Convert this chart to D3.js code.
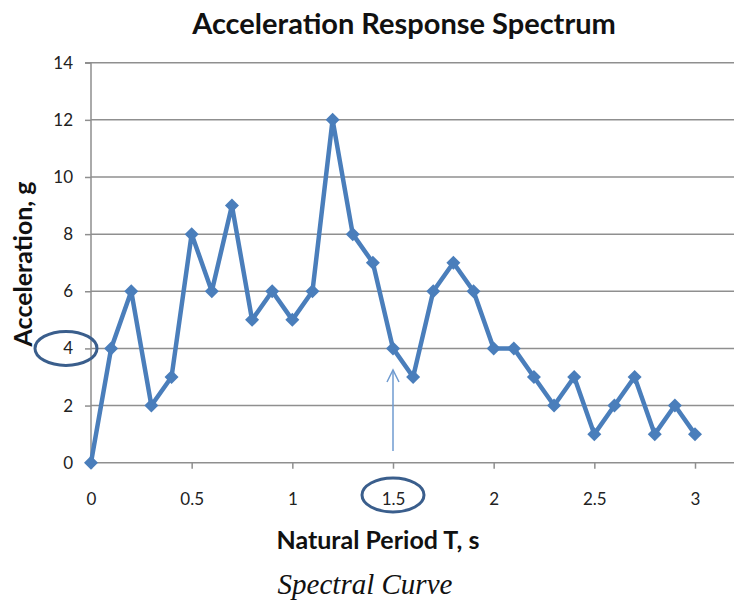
<!DOCTYPE html>
<html>
<head>
<meta charset="utf-8">
<script src="https://cdn.jsdelivr.net/npm/d3@7"></script>
<style>
  html, body { margin: 0; padding: 0; background: #fff; }
  svg { display: block; }
</style>
</head>
<body>
<svg id="chart" width="734" height="605"></svg>
<script>
const periods = [0, 0.1, 0.2, 0.3, 0.4, 0.5, 0.6, 0.7, 0.8, 0.9, 1.0, 1.1, 1.2, 1.3, 1.4, 1.5, 1.6, 1.7, 1.8, 1.9, 2.0, 2.1, 2.2, 2.3, 2.4, 2.5, 2.6, 2.7, 2.8, 2.9, 3.0];
const accelerations = [0, 4, 6, 2, 3, 8, 6, 9, 5, 6, 5, 6, 12, 8, 7, 4, 3, 6, 7, 6, 4, 4, 3, 2, 3, 1, 2, 3, 1, 2, 1];
const xTicks = [0, 0.5, 1, 1.5, 2, 2.5, 3];
const yTicks = [0, 2, 4, 6, 8, 10, 12, 14];
const titleText = "Acceleration Response  Spectrum";
const xLabel = "Natural Period T, s";
const yLabel = "Acceleration, g";
const caption = "Spectral Curve";
const highlightY = 4;
const highlightX = 1.5;

const svg = d3.select("#chart");
const x = d3.scaleLinear().domain([0, 3]).range([91, 695]);
const y = d3.scaleLinear().domain([0, 14]).range([462.7, 62.7]);
const gridRight = 734;
const font = "Lato, 'Open Sans', 'Liberation Sans', sans-serif";

// gridlines
svg.append("g").selectAll("line").data(yTicks.filter(d => d > 0)).join("line")
  .attr("x1", x(0)).attr("x2", gridRight)
  .attr("y1", d => y(d)).attr("y2", d => y(d))
  .attr("stroke", "#8f8f8f").attr("stroke-width", 1.5);

// y axis
const yAxis = svg.append("g").attr("transform", `translate(${x(0)},0)`)
  .call(d3.axisLeft(y).tickValues(yTicks).tickSize(6).tickPadding(12).tickFormat(d3.format("d")));
yAxis.select(".domain").attr("stroke", "#8f8f8f").attr("stroke-width", 1.5).attr("d", `M-6,${y(14)}H0V${y(0)}`);
yAxis.selectAll(".tick line").attr("stroke", "#8f8f8f").attr("stroke-width", 1.5);
yAxis.selectAll("text").attr("font-family", font).attr("font-size", 17).attr("fill", "#222");

// x axis
const xAxis = svg.append("g").attr("transform", `translate(0,${y(0)})`)
  .call(d3.axisBottom(x).tickValues(xTicks).tickSize(6).tickPadding(24).tickFormat(d => String(d)));
xAxis.select(".domain").attr("stroke", "#8f8f8f").attr("stroke-width", 1.5).attr("d", `M${x(0)},0H${gridRight}`);
xAxis.selectAll(".tick line").attr("stroke", "#8f8f8f").attr("stroke-width", 1.5);
xAxis.selectAll("text").attr("font-family", font).attr("font-size", 17).attr("fill", "#222");

// series
const data = periods.map((p, i) => ({ p, a: accelerations[i] }));
const color = "#4a7ebb";
svg.append("path").datum(data)
  .attr("fill", "none").attr("stroke", color).attr("stroke-width", 4.5).attr("stroke-linejoin", "round")
  .attr("d", d3.line().x(d => x(d.p)).y(d => y(d.a)));
svg.append("g").selectAll("path").data(data).join("path")
  .attr("transform", d => `translate(${x(d.p)},${y(d.a)})`)
  .attr("d", "M0,-7L7,0L0,7L-7,0Z")
  .attr("fill", color);

// title
svg.append("text").attr("x", 404).attr("y", 34).attr("text-anchor", "middle")
  .attr("font-family", font).attr("font-weight", "bold").attr("font-size", 29).attr("fill", "#111")
  .text(titleText);

// axis labels
svg.append("text").attr("x", 378).attr("y", 549).attr("text-anchor", "middle")
  .attr("font-family", font).attr("font-weight", "bold").attr("font-size", 25).attr("fill", "#111")
  .text(xLabel);
svg.append("text").attr("transform", "translate(32,264) rotate(-90)").attr("text-anchor", "middle")
  .attr("font-family", font).attr("font-weight", "bold").attr("font-size", 25).attr("fill", "#111")
  .text(yLabel);

// caption
svg.append("text").attr("x", 365).attr("y", 594).attr("text-anchor", "middle")
  .attr("font-family", "'Liberation Serif', 'Times New Roman', serif").attr("font-style", "italic")
  .attr("font-size", 29).attr("fill", "#111")
  .text(caption);

// annotations
const ellColor = "#3a5e8c";
svg.append("ellipse").attr("cx", 66).attr("cy", y(highlightY)).attr("rx", 31).attr("ry", 17)
  .attr("fill", "none").attr("stroke", ellColor).attr("stroke-width", 3);
svg.append("ellipse").attr("cx", x(highlightX)).attr("cy", 495).attr("rx", 31).attr("ry", 17)
  .attr("fill", "none").attr("stroke", ellColor).attr("stroke-width", 3);

const ax = x(highlightX);
svg.append("line").attr("x1", ax).attr("x2", ax).attr("y1", 451).attr("y2", 370)
  .attr("stroke", "#6f9bd0").attr("stroke-width", 1.5);
svg.append("path").attr("d", `M${ax - 6},${382}L${ax},${370}L${ax + 6},${382}`)
  .attr("fill", "none").attr("stroke", "#6f9bd0").attr("stroke-width", 1.5);
</script>
</body>
</html>
